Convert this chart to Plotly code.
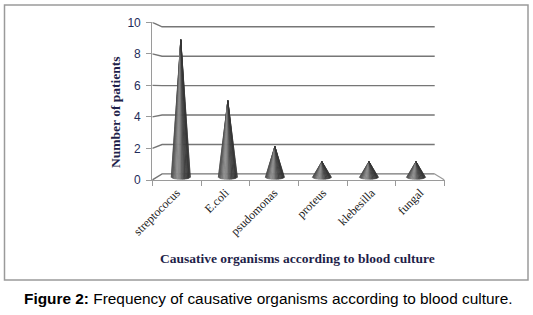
import math
import plotly.graph_objects as go

# ---- data ----
categories = ["streptococus", "E.coli", "psudomonas", "proteus", "klebesilla", "fungal"]
patients = [9, 5, 2, 1, 1, 1]
y_ticks = [0, 2, 4, 6, 8, 10]

# ---- pseudo-3D projection (front axis data units -> deeper planes) ----
XC, VC = 2.5, 5.77          # perspective centre in data units
S_BACK, S_MID = 0.933, 0.966


def proj(x, v, s):
    return XC + s * (x - XC), VC + s * (v - VC)


W, H = 533, 315
fig = go.Figure()

GRID = "#767676"
AXIS = "#9a9a9a"

# back wall gridlines with the diagonal from the front axis
for v in y_ticks:
    fx, fy = -0.5, v
    bx0, by0 = proj(-0.5, v, S_BACK)
    bx1, by1 = proj(5.5, v, S_BACK)
    fig.add_trace(go.Scatter(x=[fx, bx0, bx1], y=[fy, by0, by1], mode="lines",
                             line=dict(color=GRID, width=1.4), cliponaxis=False,
                             hoverinfo="skip", showlegend=False))

# right edge of floor
bx, by = proj(5.5, 0, S_BACK)
fig.add_trace(go.Scatter(x=[5.5, bx], y=[0, by], mode="lines",
                         line=dict(color=AXIS, width=1.2), cliponaxis=False,
                         hoverinfo="skip", showlegend=False))

# cones, drawn as shaded slices
N = 18
R = 0.205    # half width of cone base (x units)
E = 0.16     # half height of base ellipse (v units)
slices_x = [[] for _ in range(N)]
slices_y = [[] for _ in range(N)]
colors = []
for k in range(N):
    th = math.pi + math.pi * (k + 0.5) / N
    u = math.cos(th)
    L = 62 + 80 * math.exp(-((u + 0.3) / 0.5) ** 2)
    if u > 0.75:
        L -= 8
    L = int(max(40, min(200, L)))
    colors.append(f"rgb({L},{L},{L})")

for i, val in enumerate(patients):
    ax, ay = proj(i, val, S_MID)
    for k in range(N):
        t0 = math.pi + math.pi * k / N
        t1 = math.pi + math.pi * (k + 1) / N
        b0 = proj(i + R * math.cos(t0), E * math.sin(t0), S_MID)
        b1 = proj(i + R * math.cos(t1), E * math.sin(t1), S_MID)
        slices_x[k] += [ax, b0[0], b1[0], ax, None]
        slices_y[k] += [ay, b0[1], b1[1], ay, None]

for k in range(N):
    fig.add_trace(go.Scatter(x=slices_x[k], y=slices_y[k], mode="lines", fill="toself",
                             fillcolor=colors[k], line=dict(color=colors[k], width=0.6),
                             cliponaxis=False, hoverinfo="skip", showlegend=False))

fig.update_layout(
    template="none",
    width=W, height=H,
    margin=dict(l=0, r=0, t=0, b=0, autoexpand=False),
    paper_bgcolor="white", plot_bgcolor="white",
    xaxis=dict(domain=[152.3 / W, 444.5 / W], range=[-0.5, 5.5], automargin=False,
               tickmode="array", tickvals=list(range(len(categories))), ticktext=categories,
               ticks="", tickangle=-45, showgrid=False, zeroline=False,
               showline=True, linecolor=AXIS, linewidth=1.2,
               tickfont=dict(family="Liberation Serif", size=12, color="#1a1a1a"),
               minor=dict(tickmode="array", tickvals=[b - 0.5 for b in range(len(categories) + 1)],
                          ticks="outside", ticklen=5, tickcolor=AXIS, showgrid=False)),
    yaxis=dict(domain=[1 - 180 / H, 1 - 22.3 / H], range=[0, 10], automargin=False,
               tickmode="array", tickvals=y_ticks, ticks="outside", ticklen=5,
               tickcolor=AXIS, showline=True, linecolor=AXIS, linewidth=1.2,
               showgrid=False, zeroline=False, ticklabelstandoff=3,
               tickfont=dict(family="Liberation Sans", size=12, color="#1f2d5a")),
    shapes=[dict(type="rect", xref="paper", yref="paper",
                 x0=4.5 / W, x1=528 / W, y0=1 - 280 / H, y1=1 - 5 / H,
                 line=dict(color="#9a9a9a", width=1.5))],
    annotations=[
        dict(text="<b>Number of patients</b>", xref="paper", yref="paper",
             x=115 / W, y=1 - 112 / H, xanchor="center", yanchor="middle",
             showarrow=False, textangle=-90,
             font=dict(family="Liberation Serif", size=13.5, color="#1f1f4a")),
        dict(text="<b>Causative organisms according to blood culture</b>", xref="paper", yref="paper",
             x=297 / W, y=1 - 258 / H, xanchor="center", yanchor="middle", showarrow=False,
             font=dict(family="Liberation Serif", size=13.5, color="#1f1f4a")),
        dict(text="<b>Figure 2:</b> Frequency of causative organisms according to blood culture.",
             xref="paper", yref="paper", x=268 / W, y=1 - 298 / H,
             xanchor="center", yanchor="middle", showarrow=False,
             font=dict(family="Liberation Sans", size=15.4, color="#000000")),
    ],
)

fig.write_html("out.html", config={"displayModeBar": False},
               post_script="document.body.style.margin='0';document.body.style.overflow='hidden';")
